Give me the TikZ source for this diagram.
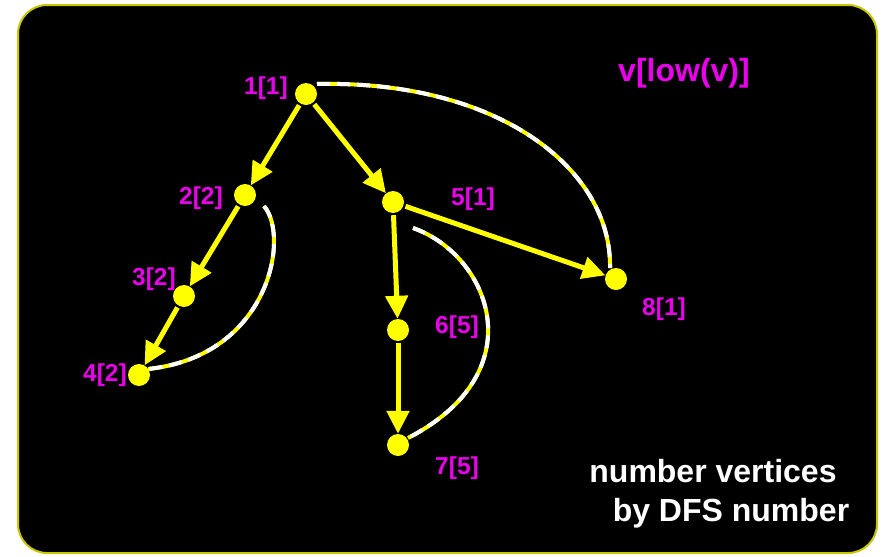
\documentclass[tikz,border=0pt]{standalone}
\usepackage{fontspec}
\setmainfont{Liberation Sans}
\usetikzlibrary{arrows.meta}
\definecolor{vyellow}{RGB}{255,255,0}
\definecolor{vmagenta}{RGB}{235,0,235}
\definecolor{frameyellow}{RGB}{200,200,0}
\begin{document}
\begin{tikzpicture}[x=1pt,y=-1pt,
  vertex/.style={circle,fill=vyellow,draw=none,minimum size=22pt,inner sep=0pt},
  vlabel/.style={text=vmagenta,font=\fontsize{24.5}{24.5}\selectfont\bfseries,inner sep=0pt},
  treeedge/.style={draw=vyellow,line width=5pt,shorten <=2pt,
    -{Triangle[length=23pt,width=22pt]}},
  backbase/.style={draw=vyellow,line width=4pt},
  backdash/.style={draw=white,line width=4pt,dash pattern=on 13pt off 7pt}]
\useasboundingbox (0,0) rectangle (884,557);
\fill[white] (0,0) rectangle (884,557);
\draw[frameyellow,line width=2pt,fill=black,rounded corners=29pt] (18,5) rectangle (877,553);

% vertices
\node[vertex] (n1) at (306,94) {};
\node[vertex] (n2) at (245,195) {};
\node[vertex] (n3) at (184,296) {};
\node[vertex] (n4) at (139,375) {};
\node[vertex] (n5) at (393,202) {};
\node[vertex] (n6) at (398,330) {};
\node[vertex] (n7) at (398,445) {};
\node[vertex] (n8) at (616,279) {};

% labels v[low(v)]
\node[vlabel] (l1) at (266,88) {1[1]};
\node[vlabel] (l2) at (201,198) {2[2]};
\node[vlabel] (l3) at (154,279) {3[2]};
\node[vlabel] (l4) at (105,375) {4[2]};
\node[vlabel] (l5) at (473,199) {5[1]};
\node[vlabel] (l6) at (457,327) {6[5]};
\node[vlabel] (l7) at (457,468) {7[5]};
\node[vlabel] (l8) at (664,309) {8[1]};
\node[text=vmagenta,font=\fontsize{32}{32}\selectfont\bfseries,inner sep=0pt] (title) at (684,73) {v[low(v)]};

% back edges
\coordinate (b1s) at (317,84);
\coordinate (b1e) at (610,268);
\coordinate (b2s) at (264,206);
\coordinate (b2e) at (148,369);
\coordinate (b3s) at (413,228);
\coordinate (b3e) at (408,438);
\foreach \s in {backbase,backdash}{
  \draw[\s] (b1s) .. controls (500,80) and (612,170) .. (b1e);
  \draw[\s] (b2s) .. controls (290,236) and (270,356) .. (b2e);
  \draw[\s] (b3s) .. controls (490,255) and (536,372) .. (b3e);
}

% tree edges
\draw[treeedge] (n1) -- (n2);
\draw[treeedge] (n1) -- (n5);
\draw[treeedge] (n2) -- (n3);
\draw[treeedge] (n3) -- (n4);
\draw[treeedge] (n5) -- (n6);
\draw[treeedge] (n6) -- (n7);
\draw[treeedge] (n5) -- (n8);

% caption
\node[text=white,font=\fontsize{32}{32}\selectfont\bfseries,inner sep=0pt] (c1) at (713,471) {number vertices};
\node[text=white,font=\fontsize{32}{32}\selectfont\bfseries,inner sep=0pt] (c2) at (731,513) {by DFS number};
\end{tikzpicture}
\end{document}
